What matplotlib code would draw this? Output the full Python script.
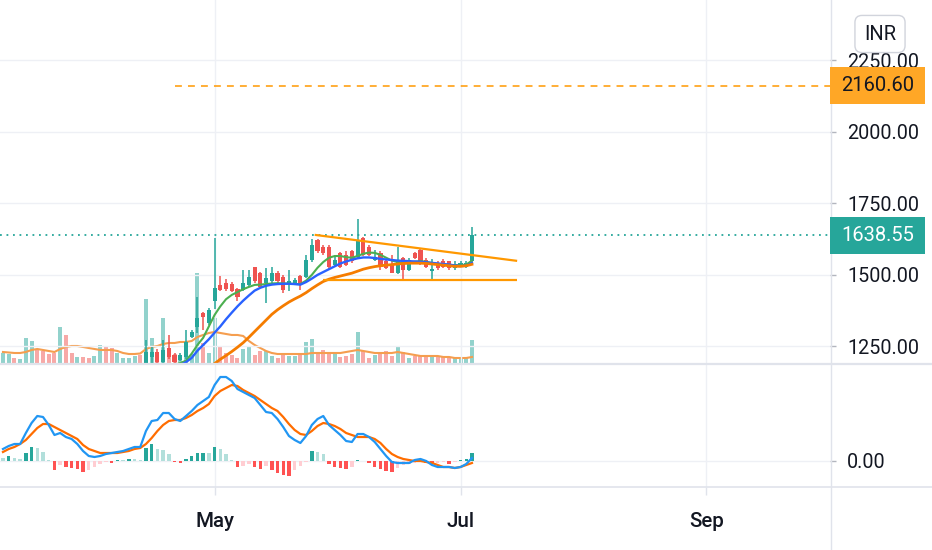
import matplotlib
matplotlib.use("Agg")
import matplotlib.pyplot as plt
import matplotlib.transforms as mtransforms
from matplotlib.lines import Line2D
from matplotlib.patches import Rectangle

plt.rcParams['font.family'] = ['Roboto', 'DejaVu Sans']

# ---------------- data ----------------
first_candle_bar = 25
opens  = [1180, 1214, 1232, 1197, 1244, 1220, 1203, 1214, 1284, 1319, 1368, 1331, 1407, 1465, 1471,
          1467, 1450, 1448, 1465, 1526, 1506, 1471, 1477, 1506, 1494, 1471, 1471, 1496, 1494, 1552,
          1622, 1599, 1599, 1535, 1576, 1570, 1582, 1564, 1628, 1599, 1552, 1576, 1547, 1535, 1506,
          1558, 1517, 1576, 1587, 1552, 1512, 1541, 1549, 1547, 1523, 1530, 1529, 1547]
highs  = [1273, 1249, 1240, 1273, 1290, 1228, 1228, 1308, 1308, 1424, 1372, 1383, 1628, 1496, 1485,
          1475, 1455, 1517, 1517, 1529, 1510, 1523, 1529, 1512, 1500, 1517, 1490, 1500, 1570, 1625,
          1625, 1605, 1603, 1564, 1580, 1582, 1586, 1696, 1632, 1603, 1587, 1582, 1552, 1570, 1599,
          1562, 1558, 1580, 1590, 1558, 1555, 1547, 1555, 1550, 1547, 1547, 1549, 1669]
lows   = [1165, 1191, 1185, 1190, 1205, 1188, 1198, 1205, 1279, 1296, 1308, 1325, 1380, 1442, 1445,
          1440, 1410, 1442, 1459, 1471, 1455, 1401, 1471, 1472, 1436, 1442, 1466, 1448, 1488, 1545,
          1576, 1570, 1517, 1529, 1525, 1530, 1542, 1558, 1565, 1565, 1547, 1517, 1520, 1505, 1503,
          1483, 1512, 1555, 1535, 1523, 1483, 1518, 1525, 1518, 1517, 1526, 1525, 1541]
closes = [1232, 1232, 1197, 1238, 1214, 1197, 1220, 1267, 1302, 1348, 1354, 1378, 1453, 1448, 1450,
          1445, 1424, 1471, 1494, 1477, 1459, 1488, 1506, 1477, 1448, 1479, 1483, 1465, 1552, 1605,
          1582, 1576, 1529, 1552, 1529, 1535, 1547, 1617, 1570, 1570, 1564, 1529, 1523, 1508, 1547,
          1517, 1552, 1558, 1541, 1529, 1520, 1523, 1529, 1523, 1537, 1541, 1541, 1638.55]

early_volume_up = [1, 1, 0, 1, 1, 1, 0, 0, 0, 0, 1, 0, 0, 1, 0, 0, 1, 1, 0, 0, 1, 1, 1, 1, 0]
volume = [103, 93, 47, 37, 253, 220, 137, 120, 87, 103, 363, 277, 103, 60, 60, 53, 70, 177, 163, 153,
          103, 47, 47, 70, 80, 640, 250, 90, 450, 150, 90, 50, 120, 90, 900, 200, 100, 450, 160, 100,
          80, 50, 140, 160, 80, 120, 120, 70, 50, 80, 70, 70, 90, 210, 240, 100, 130, 90, 100, 60,
          70, 90, 310, 120, 50, 80, 100, 120, 70, 160, 110, 50, 70, 70, 80, 70, 60, 60, 60, 50,
          40, 50, 230]
volume_ma = [110, 105, 100, 100, 110, 130, 140, 130, 120, 110, 140, 160, 170, 170, 160, 150, 140, 130,
             130, 130, 120, 100, 90, 90, 95, 140, 160, 170, 190, 200, 200, 210, 210, 220, 260, 280,
             300, 310, 300, 290, 280, 280, 270, 220, 180, 150, 120, 100, 90, 90, 90, 90, 90, 90, 100,
             100, 100, 100, 100, 100, 110, 120, 130, 120, 110, 100, 100, 100, 100, 110, 100, 90, 80,
             70, 70, 70, 70, 60, 60, 50, 50, 50, 60]

ema_fast_start = 30
ema_fast = [1185, 1192, 1200, 1225, 1255, 1280, 1320, 1360, 1390, 1415, 1430, 1440, 1450, 1458, 1465,
            1466, 1468, 1470, 1471, 1470, 1470, 1468, 1468, 1480, 1500, 1525, 1545, 1560, 1566, 1566,
            1562, 1560, 1566, 1574, 1578, 1577, 1570, 1560, 1550, 1545, 1540, 1542, 1546, 1548, 1546,
            1541, 1538, 1537, 1535, 1534, 1534, 1536, 1550]
ema_mid_start = 31
ema_mid = [1185, 1195, 1210, 1235, 1255, 1275, 1298, 1320, 1345, 1368, 1390, 1410, 1428, 1445, 1455,
           1462, 1466, 1468, 1469, 1469, 1468, 1466, 1475, 1487, 1500, 1510, 1520, 1530, 1540, 1547,
           1553, 1558, 1561, 1561, 1559, 1556, 1554, 1552, 1550, 1549, 1548, 1547, 1546, 1544, 1542,
           1540, 1538, 1536, 1533, 1531, 1532, 1542]
ema_slow_start = 37
ema_slow = [1190, 1205, 1218, 1232, 1247, 1263, 1282, 1302, 1322, 1342, 1362, 1378, 1392, 1405, 1416,
            1426, 1438, 1452, 1465, 1477, 1485, 1491, 1496, 1501, 1506, 1513, 1520, 1525, 1529, 1532,
            1534, 1536, 1538, 1540, 1541, 1541, 1541, 1540, 1538, 1536, 1534, 1532, 1530, 1530, 1532,
            1537]

macd_line = [12, 15, 17, 17, 28, 38, 45, 44, 36, 26, 28, 24, 22, 17, 10, 5, 4, 5, 7, 8, 9, 10, 12, 14,
             14, 30, 40, 41, 48, 48, 42, 40, 45, 50, 56, 60, 64, 76, 84, 84, 80, 72, 69, 66, 63, 56, 49,
             48, 42, 34, 25, 21, 18, 25, 36, 42, 45, 36, 31, 26, 20, 19, 27, 27, 24, 19, 12, 5, -1, -2,
             -2, -2, 1, 2, 0, -4, -6, -6, -6, -7, -6, -3, 3]
macd_signal = [9, 12, 14, 17, 21, 27, 33, 37, 37, 34, 31, 28, 25, 22, 16, 12, 10, 8, 8, 8, 8, 9, 10, 12,
               13, 17, 23, 30, 36, 40, 41, 41, 43, 46, 50, 53, 57, 65, 70, 73, 76, 75, 71, 68, 65, 61,
               57, 53, 50, 44, 37, 31, 27, 26, 30, 35, 38, 37, 35, 32, 28, 26, 24, 24, 24, 22, 18, 12,
               7, 4, 2, 1, 0, 0, -1, -2, -4, -6, -6, -7, -6, -4, -2]
macd_hist = [3, 5, 3, 2, 8, 14, 13, 9, 1, -9, -4, -6, -7, -8, -11, -9, -6, -3, -1, -2, 1, 0.8, 2, 1.8, 1,
             13, 17, 12, 11, 7, -1, -2, 2, 5, 8, 8.5, 8, 14, 12, 7, 1, -6, -5, -3, -6, -8, -5, -9, -12,
             -14, -14.5, -9, -5, -1, 10, 9, 7, -3, -6, -7, -8, -6, 1, 0.5, -2, -6, -8, -10, -11, -7, -4,
             -3, -2, -1, -2, -3, -2, -1, -3, -1, 1, 2, 8]
macd_hist_before = 4

target_price = 2160.60
target_start_bar = 30
last_price = 1638.55
resistance_x = [54.5, 89.9]
resistance_y = [1640, 1549]
support_x = [55.9, 89.9]
support_y = [1483, 1483]

price_ticks = [1250, 1500, 1750, 2000, 2250]
macd_ticks = [0]
month_bars = [37, 80, 123]
month_labels = ['May', 'Jul', 'Sep']
currency = 'INR'

# ---------------- figure ----------------
W, H = 932, 550
fig = plt.figure(figsize=(W / 100, H / 100), dpi=100, facecolor='white')


def rect(x0, y0, x1, y1):
    return [x0 / W, 1 - y1 / H, (x1 - x0) / W, (y1 - y0) / H]


axv = fig.add_axes(rect(0, 0, 830, 363))
ax = fig.add_axes(rect(0, 0, 830, 363), sharex=axv)
axm = fig.add_axes(rect(0, 363, 830, 487), sharex=axv)
ax.patch.set_visible(False)

XMIN, XMAX = -0.52, 144.6
axv.set_xlim(XMIN, XMAX)
ax.set_ylim(1192, 2461)
axm.set_ylim(-26, 98)

TXT = '#131722'
GRID = '#EEF0F5'
UP, DN = '#26A69A', '#EF5350'
FS = 14.2

for a in (ax, axv, axm):
    for s in a.spines.values():
        s.set_visible(False)

# grid
for p in price_ticks:
    ax.axhline(p, color=GRID, lw=1, zorder=0.5)
for m in month_bars:
    ax.axvline(m, color=GRID, lw=1, zorder=0.5)
    axm.axvline(m, color=GRID, lw=1, zorder=0.5)
for t in macd_ticks:
    axm.axhline(t, color=GRID, lw=1, zorder=0.5)

# volume
n = len(volume)
vol_up = early_volume_up + [1 if c >= o else 0 for o, c in zip(opens, closes)]
vcols = ['#92D2CC' if u else '#F7A9A7' for u in vol_up]
axv.bar(range(n), volume, width=0.7, color=vcols, linewidth=0, zorder=1)
axv.plot(range(len(volume_ma)), volume_ma, color='#F59E4F', lw=1.5, zorder=2)
axv.set_ylim(0, max(volume) * 4.03)
axv.set_yticks([])
axv.tick_params(axis='both', which='both', left=False, right=False, bottom=False,
                labelbottom=False, labelleft=False)

# candles
for k, (o, h, l, c) in enumerate(zip(opens, highs, lows, closes)):
    i = first_candle_bar + k
    col = UP if c >= o else DN
    ax.vlines(i, l, h, color=col, lw=1.1, zorder=2)
    ax.bar(i, max(abs(c - o), 2.5), bottom=min(o, c), width=0.72, color=col,
           linewidth=0, zorder=2.1)

# moving averages
ax.plot(range(ema_fast_start, ema_fast_start + len(ema_fast)), ema_fast, color='#4CAF50', lw=1.5, zorder=3)
ax.plot(range(ema_mid_start, ema_mid_start + len(ema_mid)), ema_mid, color='#2962FF', lw=1.7, zorder=3.1)
ax.plot(range(ema_slow_start, ema_slow_start + len(ema_slow)), ema_slow, color='#F57C00', lw=2.0, zorder=3.2)

# trendlines
ax.plot(resistance_x, resistance_y, color='#FF9800', lw=1.6, zorder=3.5, solid_capstyle='butt')
ax.plot(support_x, support_y, color='#FF9800', lw=1.6, zorder=3.5, solid_capstyle='butt')

# level lines
ax.hlines(target_price, target_start_bar, XMAX, colors='#FF9800', linestyles=(0, (4.5, 4)), lw=1.1, zorder=3)
ax.axhline(last_price, color='#26A69A', ls=(0, (1, 2.6)), lw=1.3, zorder=3)

# price axis
ax.yaxis.tick_right()
ax.set_yticks(price_ticks)
ax.set_yticklabels([f'{p:.2f}' for p in price_ticks])
ax.tick_params(axis='y', which='both', left=False, right=True, labelleft=False, labelright=True,
               length=4, width=1, color='#B2B5BE', pad=8.5, labelsize=FS, labelcolor=TXT)
ax.tick_params(axis='x', which='both', bottom=False, labelbottom=False)

# MACD
for i in range(len(macd_hist)):
    hcur = macd_hist[i]
    prev = macd_hist[i - 1] if i > 0 else macd_hist_before
    if hcur >= 0:
        col = '#26A69A' if hcur >= prev else '#B2DFDB'
    else:
        col = '#FFCDD2' if hcur > prev else '#FF5252'
    axm.bar(i, hcur, width=0.6, color=col, linewidth=0, zorder=1)
axm.plot(range(len(macd_line)), macd_line, color='#2196F3', lw=1.6, zorder=3)
axm.plot(range(len(macd_signal)), macd_signal, color='#FF6D00', lw=1.6, zorder=2.5)

axm.yaxis.tick_right()
axm.set_yticks(macd_ticks)
axm.set_yticklabels([f'{t:.2f}' for t in macd_ticks])
axm.tick_params(axis='y', which='both', left=False, right=True, labelleft=False, labelright=True,
                length=4, width=1, color='#B2B5BE', pad=8.5, labelsize=FS, labelcolor=TXT)
axm.set_xticks(month_bars)
axm.set_xticklabels(month_labels, fontweight='medium')
axm.tick_params(axis='x', which='both', length=6, width=1, color='#E0E3EB', pad=12,
                labelsize=FS + 0.6, labelcolor=TXT)

# pane borders (display pixel coords)
ident = mtransforms.IdentityTransform()
fig.add_artist(Line2D([0, W], [H - 363.5, H - 363.5], transform=ident, color='#E0E3EB', lw=1.6))
fig.add_artist(Line2D([0, W], [H - 487, H - 487], transform=ident, color='#E0E3EB', lw=1.2))
fig.add_artist(Line2D([830.5, 830.5], [0, H], transform=ident, color='#E0E3EB', lw=1.0))


# price labels
def price_box(price, fc, tc):
    y_disp = ax.transData.transform((0, price))[1]
    fig.add_artist(Rectangle((830, y_disp - 18.5), 95, 37, transform=ident, facecolor=fc,
                             edgecolor='none', zorder=5))
    fig.text(877.5, y_disp, f'{price:.2f}', transform=ident, ha='center', va='center',
             fontsize=FS + 0.3, color=tc, zorder=6)


price_box(target_price, '#FFA726', TXT)
price_box(last_price, '#26A69A', 'white')

fig.text(880 / W, 1 - 34 / H, currency, ha='center', va='center', fontsize=FS + 0.3, color=TXT, zorder=7,
         bbox=dict(boxstyle='round,pad=0.45,rounding_size=0.35', fc='white', ec='#D1D4DC', lw=1))

fig.savefig('out.png', dpi=100, facecolor='white')
